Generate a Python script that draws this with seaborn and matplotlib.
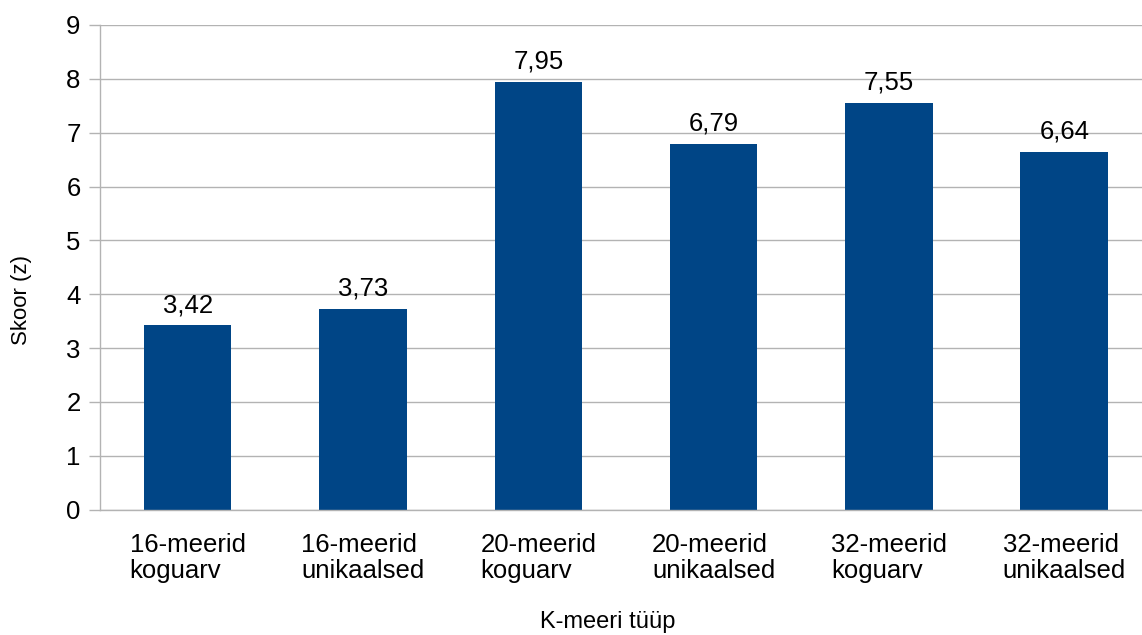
import matplotlib
matplotlib.use("Agg")
import matplotlib.pyplot as plt
import seaborn as sns
import pandas as pd

categories = ["16-meerid\nkoguarv", "16-meerid\nunikaalsed", "20-meerid\nkoguarv",
              "20-meerid\nunikaalsed", "32-meerid\nkoguarv", "32-meerid\nunikaalsed"]
values = [3.42, 3.73, 7.95, 6.79, 7.55, 6.64]
y_ticks = [0, 1, 2, 3, 4, 5, 6, 7, 8, 9]

sns.set_theme(style="white")
plt.rcParams['font.family'] = ['Liberation Sans', 'DejaVu Sans']

W, H = 1142, 635
fig = plt.figure(figsize=(W / 100, H / 100), dpi=100)
ax = fig.add_axes([100 / W, (H - 509.5) / H, 1052 / W, (509.5 - 25) / H])

df = pd.DataFrame({"cat": categories, "val": values})
sns.barplot(data=df, x="cat", y="val", order=categories, color="#004586",
            saturation=1, width=0.5, linewidth=0, ax=ax)

ax.set_xlim(-0.5, 5.5)
ax.set_ylim(0, 9)
ax.set_yticks(y_ticks)
ax.set_yticklabels([str(t) for t in y_ticks], fontsize=18.5, color="black")
ax.set_xticks(range(len(categories)))
ax.set_xticklabels(categories, fontsize=18.5, color="black", ha="center",
                   multialignment="left", linespacing=1.12)
ax.set_xticks([i - 0.5 for i in range(len(categories) + 1)], minor=True)
ax.tick_params(axis="x", which="major", length=0, pad=17)
ax.tick_params(axis="x", which="minor", length=8, width=1, color="#b3b3b3")
ax.tick_params(axis="y", which="major", length=8, width=1, color="#b3b3b3", pad=6, left=True)

ax.yaxis.grid(True, color="#b3b3b3", lw=1)
ax.xaxis.grid(False)
ax.set_axisbelow(True)
for s in ["top", "right"]:
    ax.spines[s].set_visible(False)
for s in ["left", "bottom"]:
    ax.spines[s].set_color("#b3b3b3")
    ax.spines[s].set_linewidth(1)

ax.set_xlabel("")
ax.set_ylabel("")
ax.bar_label(ax.containers[0], labels=[f"{v:.2f}".replace(".", ",") for v in values],
             padding=6, fontsize=18.5, color="black")

fig.text(22 / W, 1 - 300 / H, "Skoor (z)", rotation=90, ha="center", va="center",
         fontsize=16, color="black")
fig.text(608 / W, 1 - 622 / H, "K-meeri tüüp", ha="center", va="center",
         fontsize=17, color="black")

fig.savefig("out.png", dpi=100)
